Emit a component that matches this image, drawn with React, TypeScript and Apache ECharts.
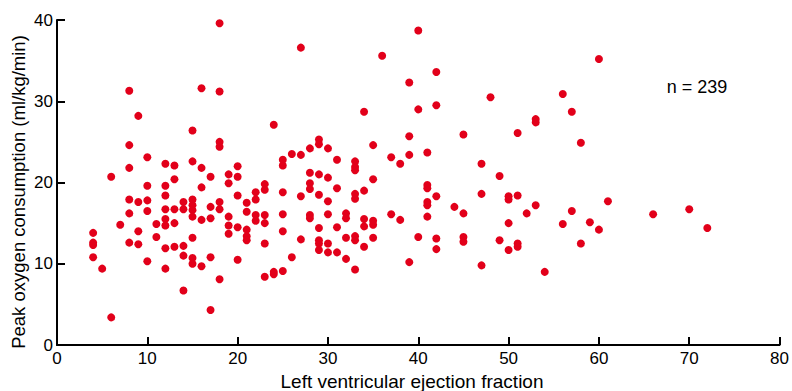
import React, { useEffect, useRef } from "react";
import * as echarts from "echarts";

// Left ventricular ejection fraction (%) columns
const efValues = [4, 5, 6, 7, 8, 9, 10, 11, 12, 13, 14, 15, 16, 17, 18, 19, 20, 21, 22, 23, 24, 25, 26, 27, 28, 29, 30, 31, 32, 33, 34, 35, 36, 37, 38, 39, 40, 41, 42, 44, 45, 47, 48, 49, 50, 51, 52, 53, 54, 56, 57, 58, 59, 60, 61, 66, 70, 72];

// Peak oxygen consumption (ml/kg/min) for each ejection fraction column
const vo2ByEf: number[][] = [
  [13.8, 12.6, 12.3, 10.8],
  [9.4],
  [20.7, 3.4],
  [14.8],
  [31.3, 24.6, 21.8, 17.9, 16.2, 12.6],
  [28.2, 17.6, 14.0, 12.4],
  [23.1, 19.6, 17.8, 16.5, 10.3],
  [14.9, 13.3],
  [22.3, 19.6, 18.4, 16.7, 15.5, 14.7, 11.9, 9.4],
  [22.1, 20.4, 16.7, 15.0, 12.1],
  [17.6, 16.7, 12.2, 11.0, 6.7],
  [26.4, 22.6, 17.9, 17.2, 16.6, 15.8, 13.2, 10.7, 10.0],
  [31.6, 21.8, 19.4, 15.4, 9.7],
  [20.7, 17.0, 15.6, 10.8, 4.3],
  [39.6, 31.2, 25.0, 24.4, 17.6, 16.7, 8.1],
  [21.0, 19.9, 15.8, 14.7, 13.7],
  [22.0, 20.7, 18.4, 14.5, 10.5],
  [17.5, 16.4, 14.2, 13.4, 12.9],
  [18.8, 17.9, 16.0, 15.3],
  [19.8, 19.1, 16.0, 15.0, 12.5, 8.4],
  [27.1, 9.0, 8.7],
  [22.8, 22.1, 18.8, 16.1, 14.0, 9.1],
  [23.5, 10.8],
  [36.6, 23.4, 18.3, 13.0],
  [24.2, 21.2, 19.9, 19.2, 16.0, 15.6],
  [25.3, 24.7, 21.0, 18.5, 14.4, 12.9, 12.5, 11.7],
  [24.2, 20.6, 17.7, 16.1, 12.5, 11.4],
  [22.8, 19.3, 14.5, 11.4],
  [16.2, 15.6, 13.2, 10.6],
  [22.6, 21.9, 21.5, 18.6, 18.0, 13.4, 12.9, 9.3],
  [28.7, 19.0, 15.5, 14.6, 12.1],
  [24.6, 20.4, 15.3, 14.8, 13.2],
  [35.6],
  [23.1, 16.1],
  [22.3, 15.4],
  [32.3, 25.7, 23.4, 10.2],
  [38.7, 29.0, 13.3],
  [23.7, 19.7, 19.3, 17.6, 17.2, 15.8],
  [33.6, 29.5, 18.3, 13.1, 11.8],
  [17.0],
  [25.9, 16.2, 13.3, 12.7],
  [22.3, 18.6, 9.8],
  [30.5],
  [20.8, 12.9],
  [18.3, 17.9, 15.0, 11.7],
  [26.1, 18.4, 12.5, 12.1],
  [16.2],
  [27.8, 27.4, 17.2],
  [9.0],
  [30.9, 14.9],
  [28.7, 16.5],
  [24.9, 12.5],
  [15.1],
  [35.2, 14.2],
  [17.7],
  [16.1],
  [16.7],
  [14.4],
];

const xTicks = [0, 10, 20, 30, 40, 50, 60, 70, 80];
const yTicks = [0, 10, 20, 30, 40];
const xTitle = "Left ventricular ejection fraction";
const yTitle = "Peak oxygen consumption (ml/kg/min)";
const nLabel = "n = 239";

export default function App() {
  const ref = useRef<HTMLDivElement>(null);
  useEffect(() => {
    if (!ref.current) return;
    const chart = echarts.init(ref.current, undefined, { renderer: "svg" });
    const points: number[][] = [];
    efValues.forEach((ef, i) => {
      vo2ByEf[i].forEach((v) => points.push([ef, v]));
    });
    const font = "'Liberation Sans', Arial, Helvetica, sans-serif";
    const axisCommon = {
      axisLine: { show: true, lineStyle: { color: "#000", width: 2 } },
      axisTick: { show: true, inside: true, length: 8, lineStyle: { color: "#000", width: 2 } },
      splitLine: { show: false },
    };
    chart.setOption({
      animation: false,
      backgroundColor: "#fff",
      grid: { left: 57, right: 11, top: 20, bottom: 46, containLabel: false },
      xAxis: {
        type: "value",
        min: xTicks[0],
        max: xTicks[xTicks.length - 1],
        interval: 10,
        ...axisCommon,
        axisLabel: { color: "#000", fontSize: 17, fontFamily: font, margin: 5 },
      },
      yAxis: {
        type: "value",
        min: yTicks[0],
        max: yTicks[yTicks.length - 1],
        interval: 10,
        ...axisCommon,
        axisLabel: { color: "#000", fontSize: 17, fontFamily: font, margin: 4 },
      },
      graphic: [
        {
          type: "text",
          x: 412,
          y: 381,
          style: {
            text: xTitle,
            fill: "#000",
            font: `19px ${font}`,
            textAlign: "center",
            textVerticalAlign: "middle",
          },
        },
        {
          type: "text",
          x: 18,
          y: 192,
          rotation: Math.PI / 2,
          style: {
            text: yTitle,
            fill: "#000",
            font: `18.5px ${font}`,
            textAlign: "center",
            textVerticalAlign: "middle",
          },
        },
        {
          type: "text",
          x: 697,
          y: 87,
          style: {
            text: nLabel,
            fill: "#000",
            font: `18px ${font}`,
            textAlign: "center",
            textVerticalAlign: "middle",
          },
        },
      ],
      series: [
        {
          type: "scatter",
          data: points,
          symbol: "circle",
          symbolSize: 8,
          itemStyle: { color: "#e2001a", opacity: 1 },
          emphasis: { disabled: true },
        },
      ],
    });
    return () => chart.dispose();
  }, []);
  return (
    <div
      ref={ref}
      style={{ position: "absolute", left: 0, top: 0, width: 792, height: 391 }}
    />
  );
}
